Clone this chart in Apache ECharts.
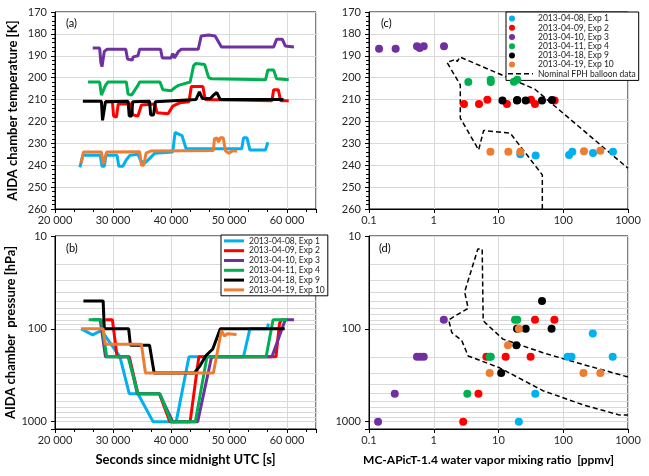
<!DOCTYPE html>
<html>
<head>
<meta charset="utf-8">
<script src="https://cdn.jsdelivr.net/npm/echarts@6/dist/echarts.min.js"></script>
<style>
html, body { margin: 0; padding: 0; background: #fff; }
#chart { width: 649px; height: 476px; }
</style>
</head>
<body>
<div id="chart"></div>
<script>
var names = ['2013-04-08, Exp 1', '2013-04-09, Exp 2', '2013-04-10, Exp 3', '2013-04-11, Exp 4', '2013-04-18, Exp 9', '2013-04-19, Exp 10'];
var colors = ['#00b0f0', '#ff0000', '#7030a0', '#00b050', '#000000', '#ed7d31'];
var fphName = 'Nominal FPH balloon data';

// (a) chamber temperature [K] vs seconds since midnight
var tempExp1 = [[24300,241],[24800,235.5],[27800,235.5],[28100,240.5],[28500,240.5],[28800,235.5],[30700,235.5],[31000,240.5],[31700,240.5],[32300,237.5],[32900,235.5],[34300,235],[34800,238],[35500,239],[36300,237],[37200,234.5],[40300,234],[40700,225],[41500,226],[41900,226.5],[42600,232.5],[52200,232.5],[52500,227.5],[53100,227.5],[53600,233],[56300,233],[56700,229.5]];
var tempExp2 = [[28600,211],[29900,211],[30100,217.5],[30600,218],[30900,212],[33100,212],[33400,217],[34300,217.5],[34900,212.5],[37200,212],[37600,216],[39500,216.5],[40300,213],[41500,211.5],[43100,211],[43500,204],[45500,204],[45900,210],[57400,210.5],[57700,205.5],[58500,205.5],[58900,210.5],[60300,210.5]];
var tempExp3 = [[26500,186.5],[27700,186.5],[27900,193],[28100,195],[28500,188],[29000,187],[32200,187],[32500,191.5],[33300,192],[33500,190.5],[34300,190],[34600,187],[38200,187],[38500,191],[40000,191],[40300,189],[40600,191],[41300,188],[41800,187],[44700,187],[45200,181],[46500,180.5],[47600,181],[48700,186],[57700,186],[58200,182.5],[59200,182.5],[59700,185.5],[61200,186]];
var tempExp4 = [[25700,202],[27700,202],[28000,208],[28300,208.5],[28700,203.5],[29100,202],[32300,202],[32600,207.5],[33200,208],[34300,203.5],[34600,202],[38100,202],[38600,205.5],[40000,206],[40700,204.5],[41300,203.5],[43300,202],[43900,194.5],[44300,193.5],[45800,194],[46500,200],[47000,200.5],[56300,201],[56700,196.5],[57700,196.5],[58200,200.5],[60300,201]];
var tempExp9 = [[24800,210.8],[28000,210.8],[28200,219.5],[28400,219.5],[28700,211],[32600,210.8],[32800,217.5],[33200,217.5],[33400,211],[36300,210.8],[36500,217],[37000,217],[37300,211],[44300,210],[44900,206.5],[45400,209.5],[46800,209.5],[47300,208],[47900,206.8],[48500,210],[59400,210]];
var tempExp10 = [[24500,239],[24900,234],[28000,234],[28300,239.5],[28600,239.5],[28900,234],[34600,233.8],[34900,240],[35300,240],[35700,234.5],[36500,233.5],[47300,233.3],[47500,228],[47900,227.5],[48200,229.5],[48500,227.5],[49000,227.5],[49400,233.5],[50000,234.5],[50500,233.5],[51400,233.5]];

// (b) chamber pressure [hPa] vs seconds since midnight
var presExp1 = [[24500,100],[26500,116],[28000,104],[31200,200],[32800,500],[34300,500],[36900,1000],[40900,1000],[43100,200],[52500,200],[53600,100],[56600,100],[56800,88]];
var presExp2 = [[28700,80],[29900,80],[30700,200],[32800,200],[34300,500],[38000,500],[39800,1000],[43300,1000],[44800,200],[58100,200],[58700,88],[59000,80],[59700,80]];
var presExp3 = [[26500,80],[27800,80],[28700,200],[32700,200],[34200,500],[38000,500],[40300,1000],[44600,1000],[47000,200],[57400,200],[59700,80],[61200,80]];
var presExp4 = [[25800,80],[28000,80],[28900,200],[32600,200],[34300,500],[38100,500],[40000,1000],[44200,1000],[46200,200],[56400,200],[57600,80],[60000,80]];
var presExp9 = [[24900,50],[28300,50],[28500,100],[32700,100],[33000,150],[36300,150],[37100,300],[44000,300],[45000,250],[46000,195],[47200,165],[48500,100],[59600,100]];
var presExp10 = [[24500,100],[28300,100],[28700,147],[34900,147],[35600,300],[47300,300],[48700,104],[49200,120],[49700,113],[51300,115]];

// (c) temperature [K] vs water vapour [ppmv]
var wvTempExp1 = [[21.7,235],[37.5,235.6],[123,235.3],[138,233.8],[288,234.4],[586,233.8]];
var wvTempExp2 = [[2.93,212],[5.0,212],[6.73,210.1],[13.5,212],[31.8,210.1],[36.6,212],[73.6,210.4]];
var wvTempExp3 = [[0.143,186.8],[0.258,186.8],[0.551,185.7],[0.606,186.5],[0.70,185.7],[1.44,185.7]];
var wvTempExp4 = [[3.42,202],[7.57,201],[7.6,202],[17.3,201.9],[19.5,201]];
var wvTempExp9 = [[11.5,210.4],[19.3,210.4],[19.5,210.2],[26.3,210.4],[47,210.4],[67,210.2]];
var wvTempExp10 = [[7.5,233.8],[14.2,233.8],[21.7,233.8],[209,233.6],[374,233.4]];
var fphTemp = [[47.5,260],[47.5,244.4],[15.2,225.4],[5.9,224.1],[4.94,233],[2.57,218.5],[2.57,203.3],[1.6,193],[2.2,191.6],[2.3,192.6],[2.55,190.6],[36.2,205.2],[1000,241.4]];

// (d) pressure [hPa] vs water vapour [ppmv]
var wvPresExp1 = [[20.6,1000],[37,500],[117,200],[134,200],[286,112],[580,200]];
var wvPresExp2 = [[2.85,1000],[4.9,500],[6.5,200],[12.9,200],[31.3,200],[36.6,80],[73,80]];
var wvPresExp3 = [[0.138,1000],[0.25,500],[0.55,200],[0.62,200],[0.7,200],[1.43,80]];
var wvPresExp4 = [[3.3,500],[7.3,200],[7.6,200],[18,80],[19.5,80]];
var wvPresExp9 = [[11,300],[18.9,150],[19.3,100],[26.3,100],[47,50],[66,100]];
var wvPresExp10 = [[7.3,300],[14,150],[20.6,100],[205,300],[374,300]];
var fphPres = [[1000,330],[202,242],[48.6,181],[11.7,129],[5.8,82],[5.6,13.8],[4.8,13.8],[3.0,40],[3.4,60],[1.7,80],[1.9,110],[2.7,133],[3.4,196],[10.4,263],[48.6,464],[202,659],[743,850],[1000,850]];

var pressureMinorTicks = [20,30,40,50,60,70,80,90,200,300,400,500,600,700,800,900];

var tempSets = [tempExp1, tempExp2, tempExp3, tempExp4, tempExp9, tempExp10];
var presSets = [presExp1, presExp2, presExp3, presExp4, presExp9, presExp10];
var wvTempSets = [wvTempExp1, wvTempExp2, wvTempExp3, wvTempExp4, wvTempExp9, wvTempExp10];
var wvPresSets = [wvPresExp1, wvPresExp2, wvPresExp3, wvPresExp4, wvPresExp9, wvPresExp10];

var font = 'Lato, "Open Sans", sans-serif';
var gridGray = '#d9d9d9';
var labelColor = '#262626';

function thousands(v) {
  return String(v).replace(/\B(?=(\d{3})+(?!\d))/g, ' ');
}
function decadeLabel(v) {
  var e = Math.log10(v);
  var r = Math.round(e);
  if (Math.abs(e - r) > 1e-6) return '';
  return Number(Math.pow(10, r).toFixed(Math.max(0, -r))).toString();
}

function timeAxis(gi, name) {
  return {
    gridIndex: gi, type: 'value', min: 20000, max: 65000, interval: 10000,
    name: name, nameLocation: 'middle', nameGap: 24,
    nameTextStyle: { fontFamily: font, fontSize: 13, fontWeight: 'bold', color: '#000' },
    axisLine: { lineStyle: { color: '#000' } },
    axisTick: { length: 4, lineStyle: { color: '#000' } },
    minorTick: { show: true, splitNumber: 3, length: 3, lineStyle: { color: '#000' } },
    axisLabel: { formatter: thousands, showMaxLabel: false, margin: 6, fontFamily: font, fontSize: 11, color: labelColor },
    splitLine: { show: true, lineStyle: { color: gridGray } }
  };
}
function tempAxis(gi, name) {
  return {
    gridIndex: gi, type: 'value', inverse: true, min: 170, max: 260, interval: 10,
    name: name, nameLocation: 'middle', nameGap: 36,
    nameTextStyle: { fontFamily: font, fontSize: 13, fontWeight: 'bold', color: '#000' },
    axisLine: { show: true, lineStyle: { color: '#000' } },
    axisTick: { show: true, length: 4, lineStyle: { color: '#000' } },
    minorTick: { show: true, splitNumber: 5, length: 3, lineStyle: { color: '#000' } },
    axisLabel: { margin: 8, fontFamily: font, fontSize: 11, color: labelColor },
    splitLine: { show: true, lineStyle: { color: gridGray } }
  };
}
function wvAxis(gi, name) {
  return {
    gridIndex: gi, type: 'log', logBase: 10, min: 0.1, max: 1000,
    name: name, nameLocation: 'middle', nameGap: 25,
    nameTextStyle: { fontFamily: font, fontSize: 12, fontWeight: 'bold', color: '#000', padding: [0, 20, 0, 0] },
    axisLine: { lineStyle: { color: '#000' } },
    axisTick: { show: true, length: 4, lineStyle: { color: '#000' } },
    axisLabel: { formatter: decadeLabel, margin: 6, fontFamily: font, fontSize: 11, color: labelColor },
    splitLine: { show: true, lineStyle: { color: gridGray } }
  };
}
function presAxis(gi, name) {
  return {
    gridIndex: gi, type: 'log', logBase: 10, min: 10, max: 1200, inverse: true,
    name: name, nameLocation: 'middle', nameGap: 36,
    nameTextStyle: { fontFamily: font, fontSize: 13, fontWeight: 'bold', color: '#000' },
    axisLine: { show: true, lineStyle: { color: '#000' } },
    axisTick: { show: true, length: 4, lineStyle: { color: '#000' } },
    axisLabel: { formatter: decadeLabel, margin: 8, fontFamily: font, fontSize: 11, color: labelColor },
    splitLine: { show: true, lineStyle: { color: gridGray } }
  };
}

var series = [];
// minor pressure grid lines for the log axes, kept under the data
[1, 3].forEach(function (gi) {
  series.push({
    type: 'line', xAxisIndex: gi, yAxisIndex: gi, data: [], symbol: 'none', silent: true, z: 0,
    markLine: {
      silent: true, z: 0, symbol: ['none', 'none'], label: { show: false },
      lineStyle: { color: gridGray, width: 1, type: 'solid' },
      data: pressureMinorTicks.map(function (v) { return { yAxis: v }; })
    }
  });
});
names.forEach(function (n, i) {
  series.push({ name: n, type: 'line', xAxisIndex: 0, yAxisIndex: 0, data: tempSets[i], symbol: 'none', z: 3, lineStyle: { width: 3, color: colors[i] }, itemStyle: { color: colors[i] } });
});
names.forEach(function (n, i) {
  series.push({ name: n, type: 'line', xAxisIndex: 1, yAxisIndex: 1, data: presSets[i], symbol: 'none', z: 3, lineStyle: { width: 3, color: colors[i] }, itemStyle: { color: colors[i] } });
});
series.push({ name: fphName, type: 'line', xAxisIndex: 2, yAxisIndex: 2, data: fphTemp, symbol: 'none', z: 3, lineStyle: { width: 1.5, color: '#000', type: [5, 3] }, itemStyle: { color: '#000' } });
series.push({ name: fphName, type: 'line', xAxisIndex: 3, yAxisIndex: 3, data: fphPres, symbol: 'none', z: 3, lineStyle: { width: 1.5, color: '#000', type: [5, 3] }, itemStyle: { color: '#000' } });
names.forEach(function (n, i) {
  series.push({ name: n, type: 'scatter', xAxisIndex: 2, yAxisIndex: 2, data: wvTempSets[i], symbolSize: 8, z: 4, itemStyle: { color: colors[i], opacity: 1 } });
});
names.forEach(function (n, i) {
  series.push({ name: n, type: 'scatter', xAxisIndex: 3, yAxisIndex: 3, data: wvPresSets[i], symbolSize: 8, z: 4, itemStyle: { color: colors[i], opacity: 1 } });
});

var dotIcon = 'path://M1,3A3,3,0,1,1,7,3A3,3,0,1,1,1,3Z M0,0L0,0Z M25,6L25,6Z';
var dashIcon = 'path://M0,2.3h5v1.5h-5Z M8,2.3h5v1.5h-5Z M16,2.3h5v1.5h-5Z M24,2.3h1v1.5h-1Z M0,0L0,0Z M25,6L25,6Z';
var legendText = { fontFamily: font, fontSize: 8.5, color: '#222' };

var chart = echarts.init(document.getElementById('chart'), null, { renderer: 'canvas' });
chart.setOption({
  animation: false,
  backgroundColor: '#fff',
  grid: [
    { left: 55, top: 12, width: 261, height: 197, show: true, borderColor: '#000', borderWidth: 1, backgroundColor: 'transparent' },
    { left: 55, top: 236, width: 261, height: 193, show: true, borderColor: '#000', borderWidth: 1, backgroundColor: 'transparent' },
    { left: 369, top: 12, width: 259, height: 197, show: true, borderColor: '#000', borderWidth: 1, backgroundColor: 'transparent' },
    { left: 369, top: 236, width: 259, height: 193, show: true, borderColor: '#000', borderWidth: 1, backgroundColor: 'transparent' }
  ],
  xAxis: [
    timeAxis(0, ''),
    timeAxis(1, 'Seconds since midnight UTC [s]'),
    wvAxis(2, ''),
    wvAxis(3, 'MC-APicT-1.4 water vapor mixing ratio  [ppmv]')
  ],
  yAxis: [
    tempAxis(0, 'AIDA chamber temperature [K]'),
    presAxis(1, 'AIDA chamber  pressure [hPa]'),
    tempAxis(2, ''),
    presAxis(3, '')
  ],
  legend: [
    {
      data: names.map(function (n) { return { name: n, icon: 'rect' }; }),
      orient: 'vertical', left: 221, top: 235, itemWidth: 20, itemHeight: 3, itemGap: 0,
      padding: [1, 3, 1, 3], selectedMode: false,
      borderColor: '#000', borderWidth: 1, backgroundColor: '#fff',
      textStyle: Object.assign({ lineHeight: 9.8 }, legendText)
    },
    {
      data: names.map(function (n) { return { name: n, icon: dotIcon }; }).concat([{ name: fphName, icon: dashIcon }]),
      orient: 'vertical', left: 506, top: 12, itemWidth: 25, itemHeight: 6, itemGap: 0,
      padding: [2, 3, 2, 2], selectedMode: false,
      borderColor: '#000', borderWidth: 1, backgroundColor: '#fff',
      textStyle: Object.assign({ lineHeight: 9.2 }, legendText)
    }
  ],
  graphic: [
    { type: 'text', left: 66, top: 18, style: { text: '(a)', font: '11px ' + font, fill: '#000' } },
    { type: 'text', left: 66, top: 243, style: { text: '(b)', font: '11px ' + font, fill: '#000' } },
    { type: 'text', left: 381, top: 18, style: { text: '(c)', font: '11px ' + font, fill: '#000' } },
    { type: 'text', left: 379, top: 243, style: { text: '(d)', font: '11px ' + font, fill: '#000' } }
  ],
  series: series
});
</script>
</body>
</html>
